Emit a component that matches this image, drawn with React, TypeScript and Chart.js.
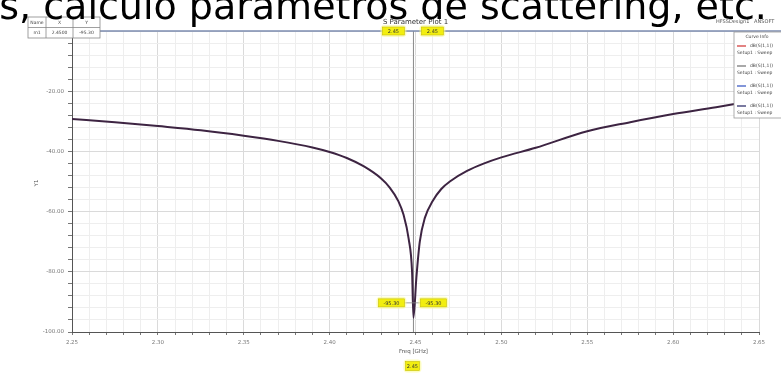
import React, { useEffect, useRef } from 'react';
import { Chart, registerables } from 'chart.js';
Chart.register(...registerables);

// Frequency (GHz) and dB(S(1,1))
const freqGHz = [2.25, 2.275, 2.30, 2.325, 2.35, 2.37, 2.39, 2.40, 2.41, 2.42, 2.43, 2.435, 2.44, 2.443, 2.446, 2.448, 2.4488,
  2.4505, 2.4525, 2.4555, 2.46, 2.465, 2.47, 2.48, 2.49, 2.50, 2.52, 2.55, 2.575, 2.60, 2.625, 2.65];
const s11dB = [-29.2, -30.3, -31.6, -33.0, -34.8, -36.5, -38.7, -40.2, -42.2, -45.0, -49.0, -52.0, -56.5, -61.0, -69.0, -80.0, -95.3,
  -82.0, -70.0, -62.0, -56.5, -52.5, -50.0, -46.5, -44.0, -42.0, -38.8, -33.3, -30.3, -27.6, -25.3, -22.8];

const xMin = 2.25;
const xMax = 2.65;
const yMin = -100;
const yMax = 0;
const markerFreq = 2.4488;
const markerValue = -95.3;
const markerXLabel = '2.45';
const markerYLabel = '-95.30';
const legendEntries = ['dB(S(1,1))', 'dB(S(1,1))', 'dB(S(1,1))', 'dB(S(1,1))'];
const legendColors = ['#d03030', '#707070', '#3050c0', '#202060'];

function yellowBox(ctx: CanvasRenderingContext2D, cx: number, cy: number, w: number, h: number, text: string) {
  ctx.save();
  ctx.fillStyle = 'rgba(250,250,150,0.6)';
  ctx.beginPath();
  ctx.roundRect(cx - w / 2 - 2, cy - h / 2 - 2, w + 4, h + 4, 4);
  ctx.fill();
  ctx.fillStyle = '#f2ee10';
  ctx.fillRect(cx - w / 2, cy - h / 2, w, h);
  ctx.strokeStyle = '#c8c000';
  ctx.lineWidth = 0.6;
  ctx.strokeRect(cx - w / 2, cy - h / 2, w, h);
  ctx.fillStyle = '#333';
  ctx.font = '5px "DejaVu Sans"';
  ctx.textAlign = 'center';
  ctx.textBaseline = 'middle';
  ctx.fillText(text, cx, cy + 0.5);
  ctx.restore();
}

const decorPlugin = {
  id: 'decor',
  beforeDatasetsDraw(chart: any) {
    const ctx: CanvasRenderingContext2D = chart.ctx;
    const { top, bottom } = chart.chartArea;
    const mx = chart.scales.x.getPixelForValue(markerFreq);
    ctx.save();
    ctx.strokeStyle = '#8a8a8a';
    ctx.lineWidth = 1;
    ctx.beginPath();
    ctx.moveTo(mx, top);
    ctx.lineTo(mx, bottom);
    ctx.stroke();
    ctx.restore();
  },
  afterDraw(chart: any) {
    const ctx: CanvasRenderingContext2D = chart.ctx;
    const { top, left, right } = chart.chartArea;
    const mx = chart.scales.x.getPixelForValue(markerFreq);
    const my = chart.scales.y.getPixelForValue(markerValue);
    ctx.save();
    // header line
    ctx.strokeStyle = '#7d8cb0';
    ctx.lineWidth = 1.5;
    ctx.beginPath();
    ctx.moveTo(100, top);
    ctx.lineTo(781, top);
    ctx.stroke();
    // title
    ctx.fillStyle = '#333';
    ctx.font = '7px "DejaVu Sans"';
    ctx.textAlign = 'center';
    ctx.textBaseline = 'middle';
    ctx.fillText('S Parameter Plot 1', (left + right) / 2, 22);
    ctx.textAlign = 'left';
    ctx.font = '5px "DejaVu Sans"';
    ctx.fillStyle = '#555';
    ctx.fillText('HFSSDesign1   ANSOFT', 716, 22);
    // marker table top-left
    ctx.fillStyle = '#fff';
    ctx.fillRect(28, 17, 72, 21);
    ctx.strokeStyle = '#888';
    ctx.lineWidth = 0.8;
    ctx.strokeRect(28, 17, 72, 21);
    ctx.beginPath();
    ctx.moveTo(28, 27.5); ctx.lineTo(100, 27.5);
    ctx.moveTo(46, 17); ctx.lineTo(46, 38);
    ctx.moveTo(73, 17); ctx.lineTo(73, 38);
    ctx.stroke();
    ctx.fillStyle = '#444';
    ctx.font = '4.5px "DejaVu Sans"';
    ctx.textAlign = 'center';
    ctx.fillText('Name', 37, 22.5);
    ctx.fillText('X', 59.5, 22.5);
    ctx.fillText('Y', 86.5, 22.5);
    ctx.fillText('m1', 37, 33);
    ctx.fillText('2.4500', 59.5, 33);
    ctx.fillText(markerYLabel, 86.5, 33);
    // legend box
    ctx.fillStyle = '#fff';
    ctx.fillRect(734, 32, 50, 86);
    ctx.strokeStyle = '#999';
    ctx.lineWidth = 0.8;
    ctx.strokeRect(734, 32, 50, 86);
    ctx.fillStyle = '#444';
    ctx.font = '4.5px "DejaVu Sans"';
    ctx.textAlign = 'center';
    ctx.fillText('Curve Info', 757, 37);
    ctx.textAlign = 'left';
    legendEntries.forEach((t, i) => {
      const y = 46 + i * 20;
      ctx.strokeStyle = legendColors[i];
      ctx.lineWidth = 1.2;
      ctx.beginPath();
      ctx.moveTo(737, y);
      ctx.lineTo(746, y);
      ctx.stroke();
      ctx.fillStyle = '#444';
      ctx.fillText(t, 750, y);
      ctx.fillText('Setup1 : Sweep', 737, y + 7);
    });
    // marker boxes
    ctx.strokeStyle = '#888';
    ctx.lineWidth = 0.8;
    ctx.beginPath();
    ctx.moveTo(mx - 12, my - 15); ctx.lineTo(mx + 10, my - 15);
    ctx.stroke();
    yellowBox(ctx, mx - 20, top, 22, 8, markerXLabel);
    yellowBox(ctx, mx + 19, top, 22, 8, markerXLabel);
    yellowBox(ctx, mx - 22, my - 15, 26, 8, markerYLabel);
    yellowBox(ctx, mx + 20, my - 15, 26, 8, markerYLabel);
    yellowBox(ctx, mx - 1, 366, 14, 9, markerXLabel);
    // axis titles
    ctx.fillStyle = '#555';
    ctx.font = '5.5px "DejaVu Sans"';
    ctx.textAlign = 'center';
    ctx.fillText('Freq [GHz]', mx, 352);
    ctx.save();
    ctx.translate(37, 183);
    ctx.rotate(-Math.PI / 2);
    ctx.fillText('Y1', 0, 0);
    ctx.restore();
    // overlay caption text
    ctx.fillStyle = '#000';
    ctx.font = '38px "DejaVu Sans"';
    ctx.textAlign = 'left';
    ctx.textBaseline = 'alphabetic';
    ctx.fillText('os, cálculo parámetros de scattering, etc.', -24, 19);
    ctx.restore();
  },
};

export default function App() {
  const ref = useRef<HTMLCanvasElement>(null);
  useEffect(() => {
    if (!ref.current) return;
    const chart = new Chart(ref.current, {
      type: 'line',
      data: {
        datasets: [
          {
            data: freqGHz.map((f, i) => ({ x: f, y: s11dB[i] })),
            borderColor: '#3d2442',
            borderWidth: 2,
            pointRadius: 0,
            tension: 0.3,
            cubicInterpolationMode: 'monotone',
          },
        ],
      },
      options: {
        responsive: false,
        animation: false,
        layout: { padding: { top: 31, right: 22, left: 0, bottom: 0 } },
        plugins: { legend: { display: false }, tooltip: { enabled: false } },
        scales: {
          x: {
            type: 'linear',
            min: xMin,
            max: xMax,
            afterFit(scale: any) { scale.height = 44; },
            ticks: {
              stepSize: 0.01,
              autoSkip: false,
              maxRotation: 0,
              padding: 4,
              color: '#777',
              font: { size: 5.5, family: 'DejaVu Sans' },
              callback: (v: any) => (Math.round(v * 100) % 5 === 0 ? Number(v).toFixed(2) : ''),
            },
            grid: {
              color: (c: any) => (Math.round(c.tick.value * 100) % 5 === 0 ? '#dadada' : '#eeeeee'),
              tickLength: 3,
              tickColor: '#777',
            },
            border: { color: '#555', width: 1 },
          },
          y: {
            min: yMin,
            max: yMax,
            afterFit(scale: any) { scale.width = 72; },
            ticks: {
              stepSize: 4,
              autoSkip: false,
              padding: 4,
              color: '#777',
              font: { size: 5.5, family: 'DejaVu Sans' },
              callback: (v: any) => (Math.round(v) % 20 === 0 && Math.round(v) !== 0 ? Number(v).toFixed(2) : ''),
            },
            grid: {
              color: (c: any) => (Math.round(c.tick.value) % 20 === 0 ? '#dadada' : '#eeeeee'),
              tickLength: 4,
              tickColor: '#777',
            },
            border: { color: '#555', width: 1 },
          },
        },
      },
      plugins: [decorPlugin],
    });
    return () => chart.destroy();
  }, []);
  return (
    <div style={{ position: 'fixed', left: 0, top: 0, width: 781, height: 376, background: '#fff' }}>
      <canvas ref={ref} width={781} height={376} />
    </div>
  );
}
